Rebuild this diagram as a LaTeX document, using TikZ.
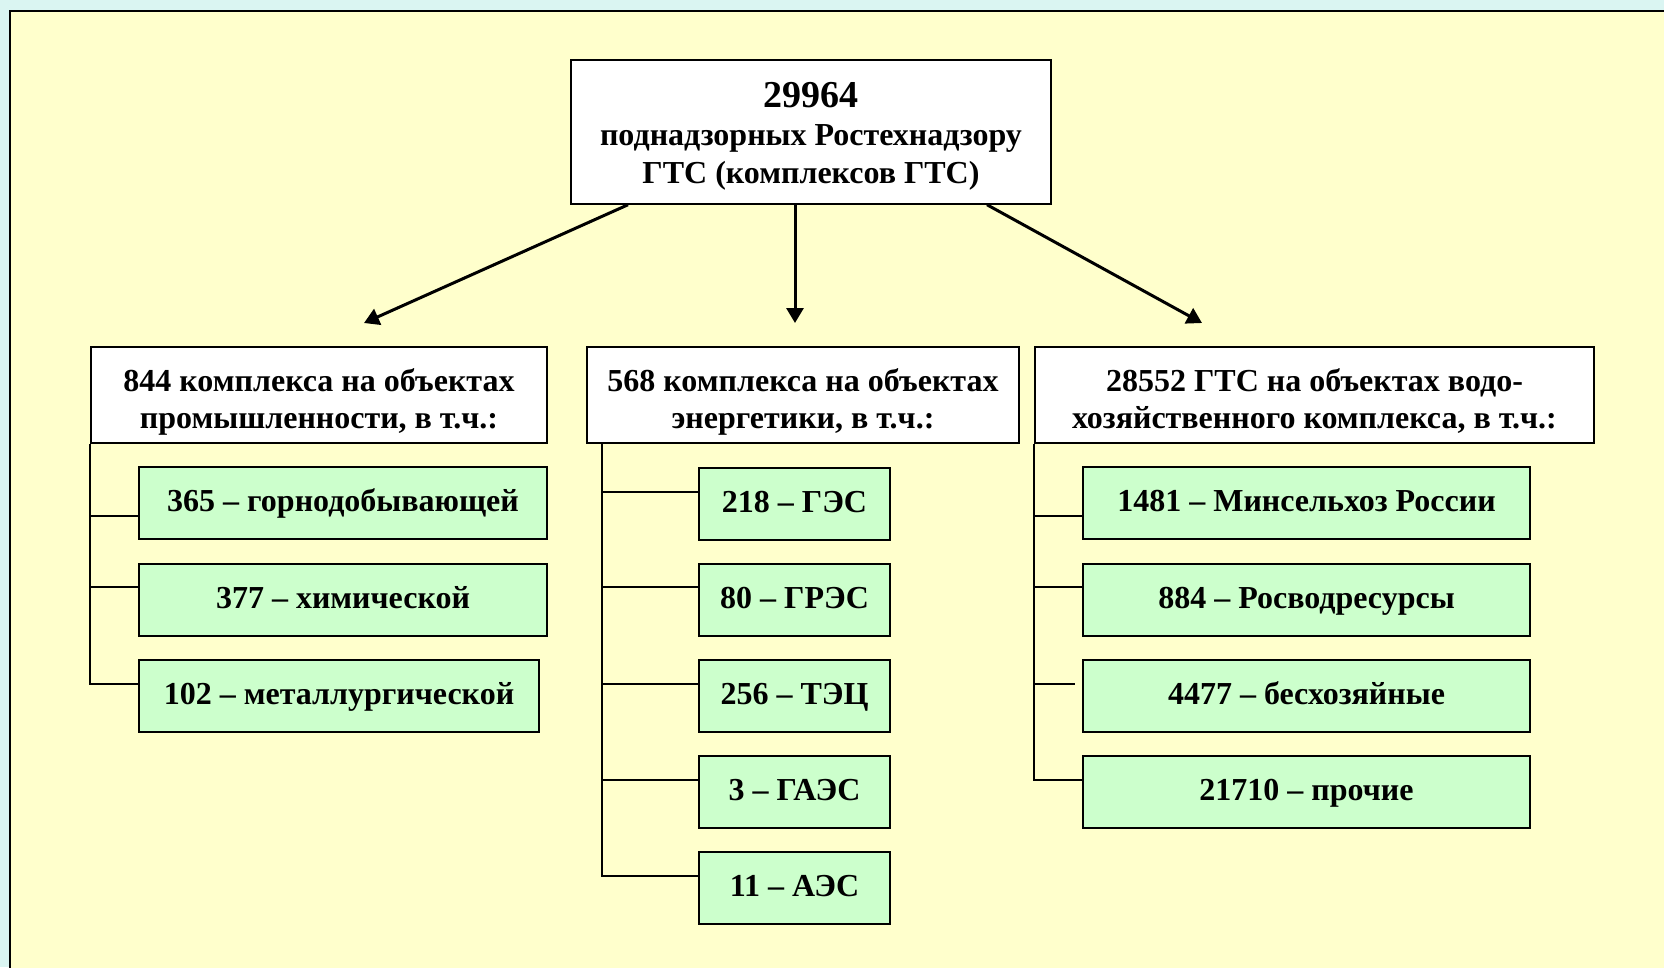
\documentclass[tikz,border=0pt]{standalone}
\usepackage{fontspec}
\setmainfont{Liberation Serif}
\usetikzlibrary{arrows.meta}
\definecolor{bgcyan}{HTML}{DAF5F2}
\definecolor{panel}{HTML}{FFFFCC}
\definecolor{boxgreen}{HTML}{CCFFCC}
\begin{document}
\begin{tikzpicture}[x=1pt,y=-1pt,
  head/.style={draw=black,line width=2pt,fill=white,align=center,inner sep=0pt,
    text height=70pt,text depth=4pt,
    font=\fontsize{32}{37}\selectfont\bfseries},
  leaf/.style={draw=black,line width=2pt,fill=boxgreen,align=center,inner sep=0pt,
    text height=25.6pt,text depth=7.7pt,
    minimum height=72pt,font=\fontsize{32}{37}\selectfont\bfseries},
  conn/.style={line width=2pt},
  arr/.style={line width=3pt,-{Triangle[length=15pt,width=17pt]}}]
\useasboundingbox (0,0) rectangle (1664,967);
\fill[bgcyan] (0,0) rectangle (1664,967);
\draw[line width=2.5pt,fill=panel] (10,11) rectangle (1700,1000);
% top
\node[head,minimum width=480pt,minimum height=143.5pt,text height=110pt,text depth=8pt,
  font=\fontsize{32}{38}\selectfont\bfseries] (T) at (811,132)
  {{\fontsize{38}{38}\selectfont 29964}\\поднадзорных Ростехнадзору\\ГТС (комплексов ГТС)};
% level 2
\node[head,minimum width=456pt,minimum height=96pt] (L) at (319,395)
  {844 комплекса на объектах\\промышленности, в т.ч.:};
\node[head,minimum width=432pt,minimum height=96pt] (M) at (803,395)
  {568 комплекса на объектах\\энергетики, в т.ч.:};
\node[head,minimum width=559pt,minimum height=96pt] (R) at (1314.5,395)
  {28552 ГТС на объектах водо-\\хозяйственного комплекса,\ в т.ч.:};
% arrows
\coordinate (aL) at (364,323);
\coordinate (aM) at (795,323);
\coordinate (aR) at (1202,323);
\draw[arr] ([xshift=-183pt]T.south) -- (aL);
\draw[arr] ([xshift=-16pt]T.south) -- (aM);
\draw[arr] ([xshift=176pt]T.south) -- (aR);
% left children
\node[leaf,minimum width=408pt] (l1) at (343,503) {365 – горнодобывающей};
\node[leaf,minimum width=408pt] (l2) at (343,599.5) {377 – химической};
\node[leaf,minimum width=400pt] (l3) at (339,695.5) {102 – металлургической};
% middle children
\node[leaf,minimum width=191pt] (m1) at (794.5,503.5) {218 – ГЭС};
\node[leaf,minimum width=191pt] (m2) at (794.5,599.5) {80 – ГРЭС};
\node[leaf,minimum width=191pt] (m3) at (794.5,695.5) {256 – ТЭЦ};
\node[leaf,minimum width=191pt] (m4) at (794.5,791.5) {3 – ГАЭС};
\node[leaf,minimum width=191pt] (m5) at (794.5,887.5) {11 – АЭС};
% right children
\node[leaf,minimum width=447pt] (r1) at (1306.5,503) {1481 – Минсельхоз России};
\node[leaf,minimum width=447pt] (r2) at (1306.5,599.5) {884 – Росводресурсы};
\node[leaf,minimum width=447pt] (r3) at (1306.5,695.5) {4477 – бесхозяйные};
\node[leaf,minimum width=447pt] (r4) at (1306.5,791.5) {21710 – прочие};
% left connectors
\draw[conn] (L.south west) |- ([yshift=-13pt]l1.west);
\draw[conn] (L.south west) |- ([yshift=12.5pt]l2.west);
\draw[conn] (L.south west) |- ([yshift=11.5pt]l3.west);
% middle connectors
\coordinate (mt) at ([xshift=16pt]M.south west);
\draw[conn] (mt) |- ([yshift=11.5pt]m1.west);
\draw[conn] (mt) |- ([yshift=12.5pt]m2.west);
\draw[conn] (mt) |- ([yshift=11.5pt]m3.west);
\draw[conn] (mt) |- ([yshift=11.5pt]m4.west);
\draw[conn] (mt) |- ([yshift=11.5pt]m5.west);
% right connectors
\draw[conn] (R.south west) |- ([yshift=-13pt]r1.west);
\draw[conn] (R.south west) |- ([yshift=12.5pt]r2.west);
\draw[conn,shorten >=7pt] (R.south west) |- ([yshift=11.5pt]r3.west);
\draw[conn] (R.south west) |- ([yshift=11.5pt]r4.west);
\end{tikzpicture}
\end{document}
